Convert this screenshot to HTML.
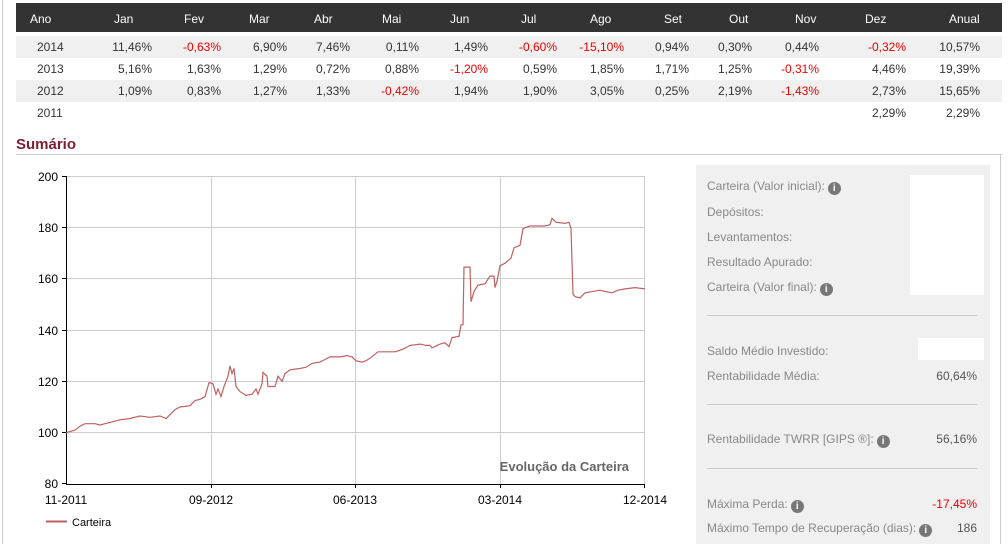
<!DOCTYPE html><html><head><meta charset="utf-8"><style>
body{margin:0;width:1008px;height:544px;background:#fff;font-family:"Liberation Sans",Arial,sans-serif;font-size:12px;position:relative;overflow:hidden;color:#333}
.a{position:absolute;white-space:nowrap}
.r{text-align:right}
.hd{position:absolute;left:16px;top:3px;width:986px;height:29px;background:#333}
.row{position:absolute;left:16px;width:986px;height:22px}
.g{background:#f0f0f0}
.red{color:#e00}
.p{color:#888;font-size:12px}
.i{display:inline-block;width:13px;height:13px;border-radius:50%;background:#777;color:#fff;font-size:10px;font-weight:bold;text-align:center;line-height:13px;vertical-align:-1px;margin-left:3px}
</style></head><body>
<div style="position:absolute;left:2px;top:0;width:1px;height:544px;background:#ccc"></div>
<div style="position:absolute;left:1000px;top:155px;width:1px;height:389px;background:#ccc"></div>
<div class="hd"></div>
<div class="row g" style="top:36px"></div>
<div class="row" style="top:58px"></div>
<div class="row g" style="top:80px"></div>
<div id="t"></div>
<div class="a" style="left:16px;top:136px;font-size:15px;font-weight:bold;color:#7a1f35">Sumário</div>
<div style="position:absolute;left:16px;top:154px;width:986px;height:1px;background:#ccc"></div>

<svg class="a" style="left:0;top:160px" width="680" height="384">
<g stroke="#ccc" stroke-width="1">
<line x1="66" x2="645" y1="16.5" y2="16.5"/><line x1="66" x2="645" y1="67.5" y2="67.5"/><line x1="66" x2="645" y1="118.5" y2="118.5"/><line x1="66" x2="645" y1="170.5" y2="170.5"/><line x1="66" x2="645" y1="221.5" y2="221.5"/><line x1="66" x2="645" y1="272.5" y2="272.5"/>
<line x1="211.5" x2="211.5" y1="16" y2="324"/><line x1="355.5" x2="355.5" y1="16" y2="324"/><line x1="500.5" x2="500.5" y1="16" y2="324"/><line x1="644.5" x2="644.5" y1="16" y2="324"/>
</g>
<g stroke="#000"><line x1="66.5" x2="66.5" y1="16" y2="324"/><line x1="66" x2="645" y1="324.5" y2="324.5"/>
<line x1="62" x2="66" y1="16.5" y2="16.5"/><line x1="62" x2="66" y1="67.5" y2="67.5"/><line x1="62" x2="66" y1="118.5" y2="118.5"/><line x1="62" x2="66" y1="170.5" y2="170.5"/><line x1="62" x2="66" y1="221.5" y2="221.5"/><line x1="62" x2="66" y1="272.5" y2="272.5"/><line x1="62" x2="66" y1="323.5" y2="323.5"/>
<line x1="211.5" x2="211.5" y1="324" y2="328"/><line x1="355.5" x2="355.5" y1="324" y2="328"/><line x1="500.5" x2="500.5" y1="324" y2="328"/><line x1="644.5" x2="644.5" y1="324" y2="328"/></g>
<g font-size="12" fill="#000" text-anchor="end" font-family="Liberation Sans Narrow,Liberation Sans,sans-serif">
<text x="58" y="21">200</text><text x="58" y="72">180</text><text x="58" y="123">160</text><text x="58" y="175">140</text><text x="58" y="226">120</text><text x="58" y="277">100</text><text x="58" y="328">80</text></g>
<g font-size="12" fill="#000" text-anchor="middle" font-family="Liberation Sans Narrow,Liberation Sans,sans-serif">
<text x="66" y="344">11-2011</text><text x="211" y="344">09-2012</text><text x="355" y="344">06-2013</text><text x="500" y="344">03-2014</text><text x="645" y="344">12-2014</text></g>
<text x="629" y="311" text-anchor="end" font-size="13" font-weight="bold" fill="#666" font-family="Liberation Sans Narrow,Liberation Sans,sans-serif">Evolução da Carteira</text>
<line x1="46" x2="67" y1="361.5" y2="361.5" stroke="#c06060" stroke-width="2"/>
<text x="72" y="366" font-size="11" fill="#000" font-family="Liberation Sans Narrow,Liberation Sans,sans-serif">Carteira</text>
<polyline id="pl" fill="none" stroke="#c06060" stroke-width="1.2"/>
</svg>

<div style="position:absolute;left:696px;top:165px;width:294px;height:379px;background:#f0f0f0"></div>
<div style="position:absolute;left:910px;top:175px;width:74px;height:120px;background:#fff"></div>
<div style="position:absolute;left:918px;top:338px;width:66px;height:22px;background:#fff"></div>
<div style="position:absolute;left:707px;top:315px;width:270px;height:1px;background:#ccc"></div>
<div style="position:absolute;left:707px;top:404px;width:270px;height:1px;background:#ccc"></div>
<div style="position:absolute;left:707px;top:468px;width:270px;height:1px;background:#ccc"></div>
<div class="a p" style="left:707px;top:179px">Carteira (Valor inicial):<span class="i">i</span></div>
<div class="a p" style="left:707px;top:205px">Depósitos:</div>
<div class="a p" style="left:707px;top:230px">Levantamentos:</div>
<div class="a p" style="left:707px;top:255px">Resultado Apurado:</div>
<div class="a p" style="left:707px;top:280px">Carteira (Valor final):<span class="i">i</span></div>
<div class="a p" style="left:707px;top:344px">Saldo Médio Investido:</div>
<div class="a p" style="left:707px;top:369px">Rentabilidade Média:</div>
<div class="a p r" style="right:31px;top:369px;color:#555">60,64%</div>
<div class="a p" style="left:707px;top:432px">Rentabilidade TWRR [GIPS ®]:<span class="i">i</span></div>
<div class="a p r" style="right:31px;top:432px;color:#555">56,16%</div>
<div class="a p" style="left:707px;top:497px">Máxima Perda:<span class="i">i</span></div>
<div class="a p r" style="right:31px;top:497px;color:#e00">-17,45%</div>
<div class="a p" style="left:707px;top:521px">Máximo Tempo de Recuperação (dias):<span class="i">i</span></div>
<div class="a p r" style="right:31px;top:521px;color:#555">186</div>
<script>
var hx=[30,114,184,249,314,382,450,521,590,664,729,795,865,949],hl=["Ano","Jan","Fev","Mar","Abr","Mai","Jun","Jul","Ago","Set","Out","Nov","Dez","Anual"];
var re=[152,221,287,350,419,488,557,624,689,752,819,906,980];
var rows=[["2014","11,46%","-0,63%","6,90%","7,46%","0,11%","1,49%","-0,60%","-15,10%","0,94%","0,30%","0,44%","-0,32%","10,57%"],
["2013","5,16%","1,63%","1,29%","0,72%","0,88%","-1,20%","0,59%","1,85%","1,71%","1,25%","-0,31%","4,46%","19,39%"],
["2012","1,09%","0,83%","1,27%","1,33%","-0,42%","1,94%","1,90%","3,05%","0,25%","2,19%","-1,43%","2,73%","15,65%"],
["2011","","","","","","","","","","","","2,29%","2,29%"]];
var h="";for(var i=0;i<14;i++)h+='<div class="a" style="color:#fff;left:'+hx[i]+'px;top:12px">'+hl[i]+'</div>';
rows.forEach(function(r,k){var y=40+k*22;h+='<div class="a" style="left:37px;top:'+y+'px">'+r[0]+'</div>';for(var j=1;j<14;j++)if(r[j])h+='<div class="a'+(r[j][0]=="-"?" red":"")+'" style="right:'+(1008-re[j-1])+'px;top:'+y+'px">'+r[j]+'</div>';});
document.getElementById("t").innerHTML=h;
var d=[66,100,75,101,80,102.5,85,103.5,95,103.5,100,103,110,104,120,105,130,105.5,140,106.5,150,106,160,106.5,166,105.5,170,107,175,109,180,110,190,110.5,195,112.5,200,113,205,114,209,119.5,213,119,216,115,218,117,221,114,224,118,228,122,230,126,232,123,234,125,236,118,240,116,246,114.5,252,115,256,117,258,115,262,119,263,123.5,267,122,268,118,275,118,278,122,282,120,285,123,290,124.5,300,125,306,125.5,312,127,320,127.5,330,129.5,340,129.5,347,130,352,129.5,356,128,362,127.5,366,128,370,129,378,131.5,385,131.5,395,131.5,403,132.5,410,134,420,134.5,426,134,430,134,432,133,440,134.5,445,135,449,133.5,452,137,459,137.5,461,142,463,142,464,164.5,470,164.5,471,151,474,155,478,157.5,485,158,490,161,494,161,495,156.5,497,159,500,165,505,166,511,168,514,172,520,173,523,179.5,530,180.5,545,180.5,550,181,552,183.5,556,182,565,181.5,569,182,571,179.5,573,154,575,153,580,152.5,585,154.5,600,155.5,605,155,612,154.5,618,155.5,625,156,635,156.5,645,156];
var p=[];for(var i=0;i<d.length;i+=2)p.push(d[i]+","+(324-(d[i+1]-80)*2.567).toFixed(1));
document.getElementById("pl").setAttribute("points",p.join(" "));
</script>
</body></html>
